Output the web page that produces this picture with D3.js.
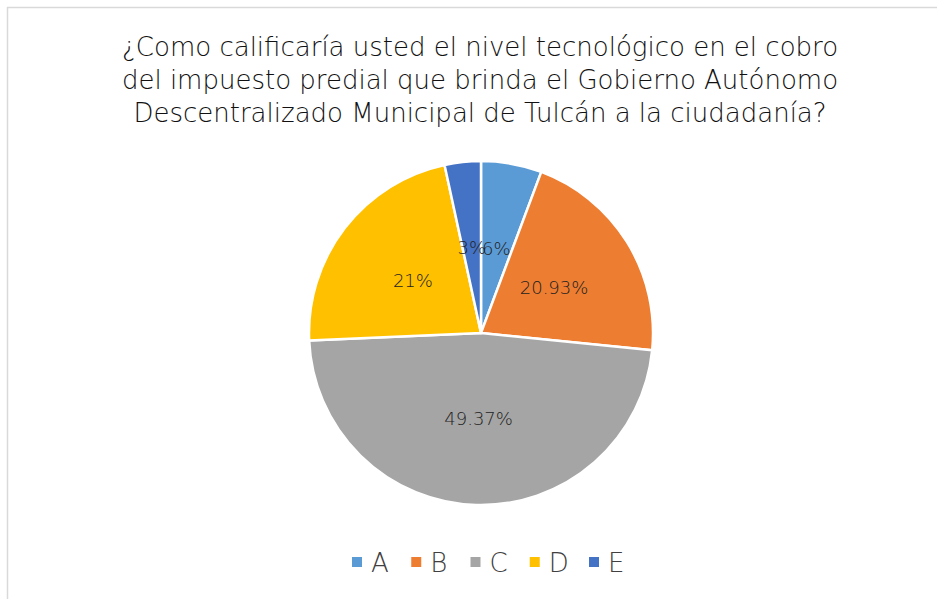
<!DOCTYPE html>
<html>
<head>
<meta charset="utf-8">
<script src="https://cdn.jsdelivr.net/npm/d3@7"></script>
<style>
  body { margin: 0; background: #fff; }
  svg { display: block; }
</style>
</head>
<body>
<script>
// chart data
const categories = ["A", "B", "C", "D", "E"];
const shares = [5.7, 20.9, 47.7, 22.3, 3.4];          // slice sizes as drawn
const labels = ["6%", "20.93%", "49.37%", "21%", "3%"]; // label text as printed
const colors = ["#5B9BD5", "#ED7D31", "#A5A5A5", "#FFC000", "#4472C4"];
const titleLines = [
  "¿Como calificaría usted el nivel tecnológico en el cobro",
  "del impuesto predial que brinda el Gobierno Autónomo",
  "Descentralizado Municipal de Tulcán a la ciudadanía?"
];

const width = 937,
  height = 599,
  cx = 481, cy = 333,
  radius = 172;

const font = "'DejaVu Sans', sans-serif";

let svg = d3.select("body")
  .append("svg")
  .attr("width", width)
  .attr("height", height);

// chart frame (only left/top are visible in the crop)
svg.append("rect")
  .attr("x", 7.5).attr("y", 7.5)
  .attr("width", width + 10).attr("height", height + 10)
  .attr("fill", "#fff")
  .attr("stroke", "#D9D9D9")
  .attr("stroke-width", 1.5);

// title
svg.append("g")
  .selectAll("text")
  .data(titleLines)
  .enter()
  .append("text")
  .attr("x", 480)
  .attr("y", (d, i) => 56 + i * 33)
  .attr("text-anchor", "middle")
  .attr("font-family", font)
  .attr("font-weight", 200)
  .attr("font-size", 26)
  .attr("fill", "#111")
  .text(d => d);

const color = d3.scaleOrdinal().domain(categories).range(colors);

const pie = d3.pie()
  .sort(null)
  .value(d => d.value);

const arcs = pie(categories.map((c, i) => ({ name: c, value: shares[i], label: labels[i] })));

const arc = d3.arc().innerRadius(0).outerRadius(radius);

let g = svg.append("g")
  .attr("transform", `translate(${cx},${cy})`);

g.selectAll("path")
  .data(arcs)
  .enter()
  .append("path")
  .attr("d", arc)
  .attr("fill", d => color(d.data.name))
  .attr("stroke", "#fff")
  .attr("stroke-width", 2.5)
  .attr("stroke-linejoin", "round");

// data labels at the slice centroids (3% and 6% touch, as in the original)
g.selectAll("text")
  .data(arcs)
  .enter()
  .append("text")
  .attr("transform", d => `translate(${arc.centroid(d)})`)
  .attr("dy", "0.35em")
  .attr("text-anchor", "middle")
  .attr("font-family", font)
  .attr("font-weight", 200)
  .attr("font-size", 18)
  .attr("fill", "#222")
  .text(d => d.data.label);

// legend
const legendX = d3.scalePoint()
  .domain(categories)
  .range([352, 589]);

let legend = svg.append("g")
  .selectAll("g")
  .data(categories)
  .enter()
  .append("g")
  .attr("transform", d => `translate(${legendX(d)},562)`);

legend.append("rect")
  .attr("x", 0).attr("y", -5)
  .attr("width", 10).attr("height", 10)
  .attr("fill", d => color(d));

legend.append("text")
  .attr("x", 19)
  .attr("y", 10)
  .attr("font-family", font)
  .attr("font-weight", 200)
  .attr("font-size", 26)
  .attr("fill", "#404040")
  .text(d => d);
</script>
</body>
</html>
